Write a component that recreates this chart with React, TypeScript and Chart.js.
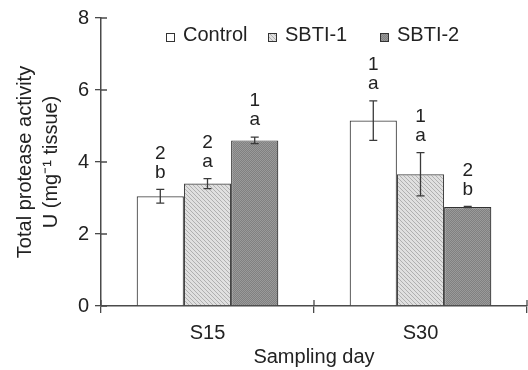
import React, { useEffect, useRef } from "react";
import { Chart, registerables } from "chart.js";

Chart.register(...registerables);

const categories = ["S15", "S30"];
const seriesNames = ["Control", "SBTI-1", "SBTI-2"];
const controlValues = [3.05, 5.15];
const sbti1Values = [3.4, 3.66];
const sbti2Values = [4.6, 2.75];
const controlErrors = [0.19, 0.55];
const sbti1Errors = [0.14, 0.6];
const sbti2Errors = [0.09, 0.02];
const controlLetters = [["2", "b"], ["1", "a"]];
const sbti1Letters = [["2", "a"], ["1", "a"]];
const sbti2Letters = [["1", "a"], ["2", "b"]];
const yTicks = [0, 2, 4, 6, 8];

const FONT = "'Liberation Sans', Arial, Helvetica, sans-serif";
const AXIS = "#4a4a4a";

function makePattern(kind: string): CanvasPattern | string {
  const c = document.createElement("canvas");
  const ctx = c.getContext("2d");
  if (!ctx) return "#ccc";
  if (kind === "hatch") {
    c.width = 4;
    c.height = 4;
    ctx.fillStyle = "#e0e0e0";
    ctx.fillRect(0, 0, 4, 4);
    ctx.fillStyle = "#b0b0b0";
    for (let i = 0; i < 4; i++) ctx.fillRect(i, i, 1, 1);
  } else {
    c.width = 2;
    c.height = 2;
    ctx.fillStyle = "#808080";
    ctx.fillRect(0, 0, 2, 2);
    ctx.fillStyle = "#9a9a9a";
    ctx.fillRect(0, 0, 1, 1);
    ctx.fillRect(1, 1, 1, 1);
  }
  return ctx.createPattern(c, "repeat") || "#ccc";
}

export default function App() {
  const ref = useRef<HTMLCanvasElement | null>(null);

  useEffect(() => {
    if (!ref.current) return;
    const hatch = makePattern("hatch");
    const checker = makePattern("checker");
    const fills: any[] = ["#ffffff", hatch, checker];
    const errors = [controlErrors, sbti1Errors, sbti2Errors];
    const letters = [controlLetters, sbti1Letters, sbti2Letters];

    const extras = {
      id: "extras",
      afterDatasetsDraw(chart: any) {
        const ctx = chart.ctx;
        const y = chart.scales.y;
        const area = chart.chartArea;
        ctx.save();
        // error bars + letters
        chart.data.datasets.forEach((ds: any, i: number) => {
          const meta = chart.getDatasetMeta(i);
          meta.data.forEach((bar: any, j: number) => {
            const v = ds.data[j];
            const e = errors[i][j];
            const yt = y.getPixelForValue(v + e);
            const yb = y.getPixelForValue(v - e);
            ctx.strokeStyle = "#3a3a3a";
            ctx.lineWidth = 1.3;
            ctx.beginPath();
            ctx.moveTo(bar.x, yt);
            ctx.lineTo(bar.x, yb);
            ctx.moveTo(bar.x - 4, yt);
            ctx.lineTo(bar.x + 4, yt);
            ctx.moveTo(bar.x - 4, yb);
            ctx.lineTo(bar.x + 4, yb);
            ctx.stroke();
            ctx.fillStyle = "#222";
            ctx.font = `19px ${FONT}`;
            ctx.textAlign = "center";
            ctx.textBaseline = "middle";
            const [d, l] = letters[i][j];
            ctx.fillText(l, bar.x, yt - 17);
            ctx.fillText(d, bar.x, yt - 36);
          });
        });
        // inner tick marks
        ctx.strokeStyle = AXIS;
        ctx.lineWidth = 1.3;
        ctx.beginPath();
        yTicks.forEach((t) => {
          const py = y.getPixelForValue(t);
          ctx.moveTo(area.left, py);
          ctx.lineTo(area.left + 6, py);
        });
        const n = categories.length;
        for (let k = 0; k <= n; k++) {
          const px = area.left + ((area.right - area.left) * k) / n;
          ctx.moveTo(px, area.bottom);
          ctx.lineTo(px, area.bottom - 6);
        }
        ctx.stroke();
        // legend
        const items = [
          { x: 166, tx: 183 },
          { x: 268, tx: 285 },
          { x: 380, tx: 397 },
        ];
        ctx.font = `20px ${FONT}`;
        ctx.textAlign = "left";
        ctx.textBaseline = "middle";
        items.forEach((it, i) => {
          ctx.fillStyle = fills[i];
          ctx.fillRect(it.x, 33, 8, 8);
          ctx.strokeStyle = "#333";
          ctx.lineWidth = 1;
          ctx.strokeRect(it.x + 0.5, 33.5, 8, 8);
          ctx.fillStyle = "#222";
          ctx.fillText(seriesNames[i], it.tx, 35);
        });
        ctx.restore();
      },
    };

    const chart = new Chart(ref.current, {
      type: "bar",
      data: {
        labels: categories,
        datasets: [
          {
            label: seriesNames[0],
            data: controlValues,
            backgroundColor: fills[0],
            borderColor: "#444",
            borderWidth: 1.2,
          },
          {
            label: seriesNames[1],
            data: sbti1Values,
            backgroundColor: fills[1],
            borderColor: "#444",
            borderWidth: 1.2,
          },
          {
            label: seriesNames[2],
            data: sbti2Values,
            backgroundColor: fills[2],
            borderColor: "#333",
            borderWidth: 1.2,
          },
        ],
      },
      options: {
        animation: false,
        responsive: false,
        maintainAspectRatio: false,
        layout: { padding: { left: 0, right: 1, top: 16, bottom: 0 } },
        plugins: { legend: { display: false }, tooltip: { enabled: false } },
        datasets: { bar: { categoryPercentage: 0.665, barPercentage: 1 } },
        scales: {
          x: {
            offset: true,
            grid: {
              display: true,
              offset: true,
              drawOnChartArea: false,
              drawTicks: true,
              tickLength: 7,
              color: AXIS,
              lineWidth: 1.3,
            },
            border: { display: true, color: AXIS, width: 1.5 },
            ticks: { color: "#222", font: { family: FONT, size: 20 }, padding: 8 },
            title: {
              display: true,
              text: "Sampling day",
              color: "#222",
              font: { family: FONT, size: 20 },
              padding: { top: 0, bottom: 1 },
            },
            afterFit: (s: any) => {
              s.height = 64;
            },
          },
          y: {
            min: 0,
            max: 8,
            afterBuildTicks: (s: any) => {
              s.ticks = yTicks.map((v) => ({ value: v }));
            },
            grid: {
              display: true,
              drawOnChartArea: false,
              drawTicks: true,
              tickLength: 6,
              color: AXIS,
              lineWidth: 1.3,
            },
            border: { display: true, color: AXIS, width: 1.5 },
            ticks: { color: "#222", font: { family: FONT, size: 20 }, padding: 6 },
            title: {
              display: true,
              text: ["Total protease activity", "U (mg\u207B\u00B9 tissue)"],
              color: "#222",
              font: { family: FONT, size: 20, lineHeight: 1.3 },
              padding: { top: 12, bottom: 0 },
            },
            afterFit: (s: any) => {
              s.width = 101;
            },
          },
        },
      },
      plugins: [extras],
    });
    return () => chart.destroy();
  }, []);

  return (
    <div style={{ position: "fixed", left: 0, top: 0, width: 528, height: 370, background: "#fff" }}>
      <canvas ref={ref} width={528} height={370} />
    </div>
  );
}
